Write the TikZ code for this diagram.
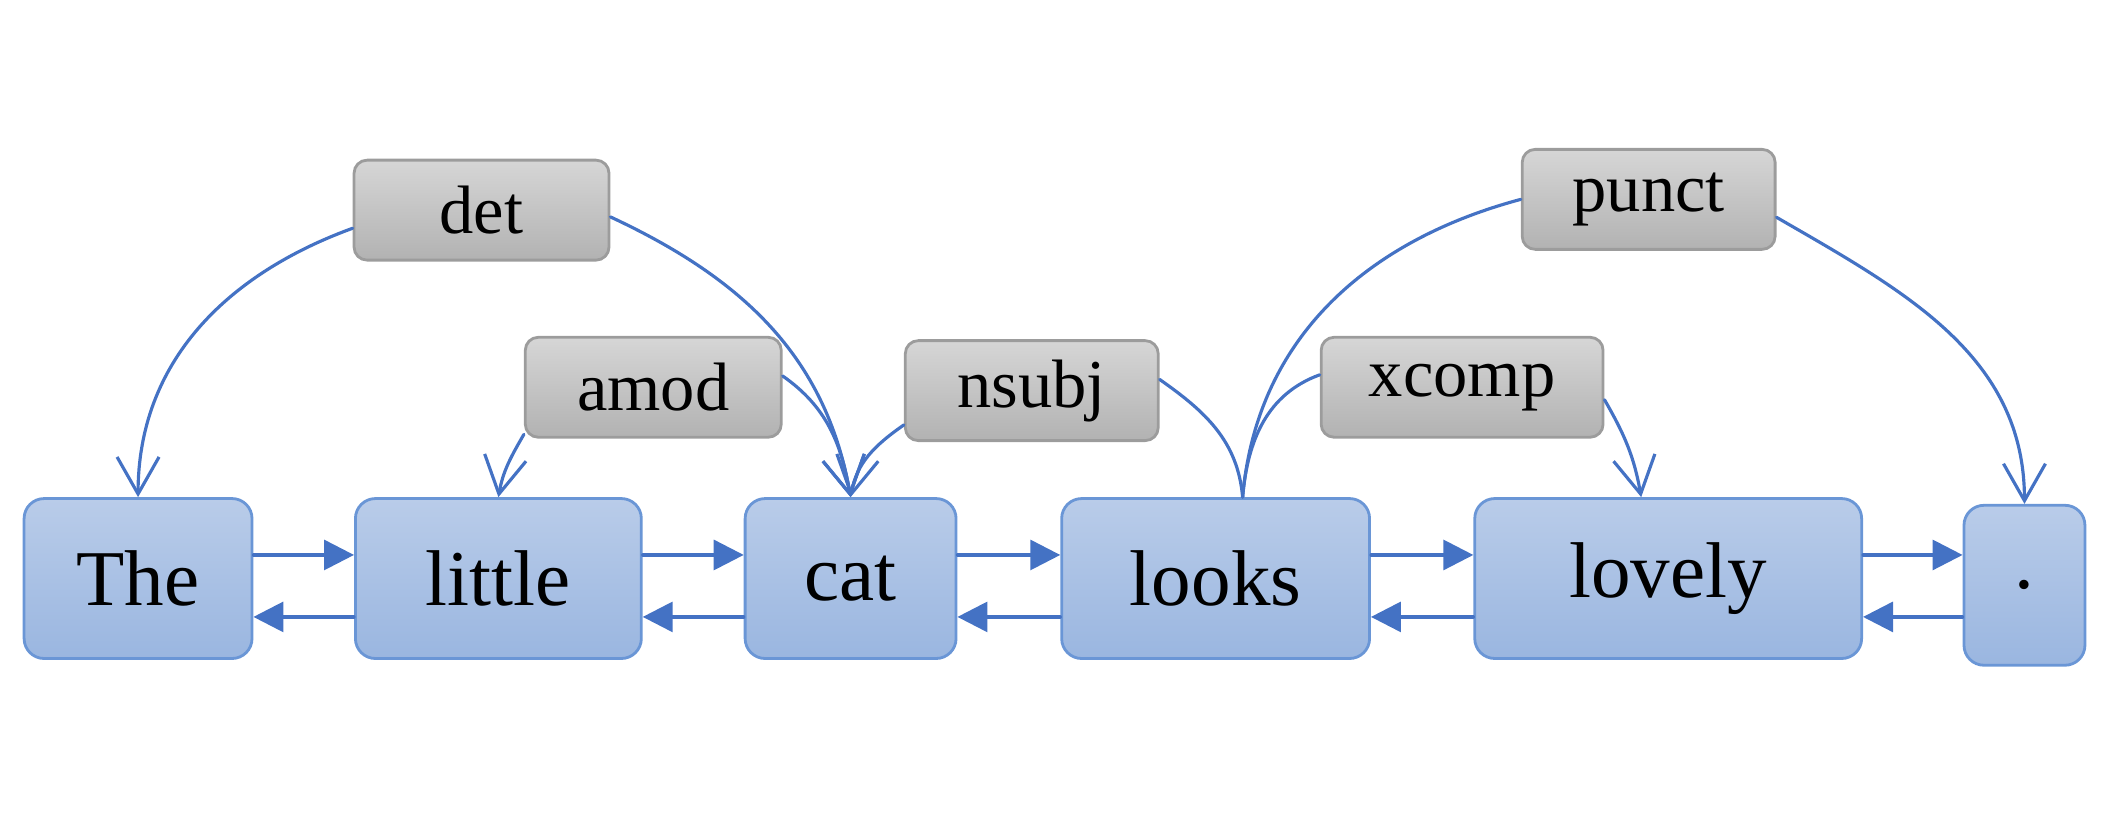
\documentclass[tikz,border=0pt]{standalone}
\usepackage{fontspec}
\setmainfont{Liberation Serif}
\usetikzlibrary{arrows.meta}
\definecolor{deplink}{HTML}{4472C4}
\definecolor{wordtop}{HTML}{B9CCE9}
\definecolor{wordbot}{HTML}{9AB6E0}
\definecolor{wordline}{HTML}{6A96D6}
\definecolor{labtop}{HTML}{D6D6D6}
\definecolor{labbot}{HTML}{B2B2B2}
\definecolor{labline}{HTML}{9C9C9C}
\begin{document}
\begin{tikzpicture}[line cap=round,line join=round,x=0.01347cm,y=-0.01347cm,
  word/.style={draw=wordline,line width=0.8pt,rounded corners=0.2cm,top color=wordtop,bottom color=wordbot,
    minimum height=1.6cm,inner sep=0pt,font=\fontsize{22.5}{26}\selectfont},
  rel/.style={draw=labline,line width=0.8pt,rounded corners=0.13cm,top color=labtop,bottom color=labbot,
    minimum height=1cm,inner sep=0pt,font=\fontsize{19.5}{23}\selectfont},
  fwd/.style={draw=deplink,line width=0.9pt,-{Triangle[length=3mm,width=3mm]}},
  arc/.style={draw=deplink,line width=0.9pt},
  arcto/.style={arc,-{Straight Barb[length=3.7mm,width=4.2mm,line width=0.9pt]}}]
\useasboundingbox (0,0) rectangle (1568,609);
% words
\node[word,minimum width=2.28cm] (The) at (102.5,429.5) {The};
\node[word,minimum width=2.86cm] (little) at (370,429.5) {little};
\node[word,minimum width=2.11cm] (cat) at (631.5,429.5) {cat};
\node[word,minimum width=3.08cm] (looks) at (902.5,429.5) {looks};
\node[word,minimum width=3.87cm] (lovely) at (1238.5,429.5) {lovely};
\node[word,minimum width=1.21cm] (dot) at (1503,434.5) {.};
% relations
\node[rel,minimum width=2.55cm] (det) at (357.5,156) {det};
\node[rel,minimum width=2.56cm] (amod) at (485,287.5) {amod};
\node[rel,minimum width=2.53cm] (nsubj) at (766,290) {nsubj};
\node[rel,minimum width=2.82cm] (xcomp) at (1085.5,287.5) {xcomp};
\node[rel,minimum width=2.53cm] (punct) at (1224,148) {punct};
\coordinate (lk) at ([xshift=0.27cm]looks.north);
\coordinate (lv) at ([xshift=-0.27cm]lovely.north);
% chain arrows
\foreach \a/\b in {The/little,little/cat,cat/looks,looks/lovely,lovely/dot}{
  \draw[fwd] (\a.east |- 0,412) -- (\b.west |- 0,412);
  \draw[fwd] (\b.west |- 0,458) -- (\a.east |- 0,458);
}
% dependency arcs
\draw[arcto] (det.188) to[out=200,in=90] (The.north);
\draw[arcto] (det.-3) to[out=-25,in=100] (cat.north);
\draw[arcto] (amod.-160) to[out=240,in=80] (little.north);
\draw[arcto] (amod.5) to[out=-35,in=100] (cat.north);
\draw[arcto] (nsubj.-165) to[out=215,in=80] (cat.north);
\draw[arc] (nsubj.5) to[out=-35,in=95] (lk);
\draw[arc] (xcomp.175) to[out=200,in=85] (lk);
\draw[arcto] (xcomp.-5) to[out=-60,in=100] (lv);
\draw[arc] (punct.180) to[out=195,in=85] (lk);
\draw[arcto] (punct.-8) to[out=-30,in=90] (dot.north);
\end{tikzpicture}
\end{document}
